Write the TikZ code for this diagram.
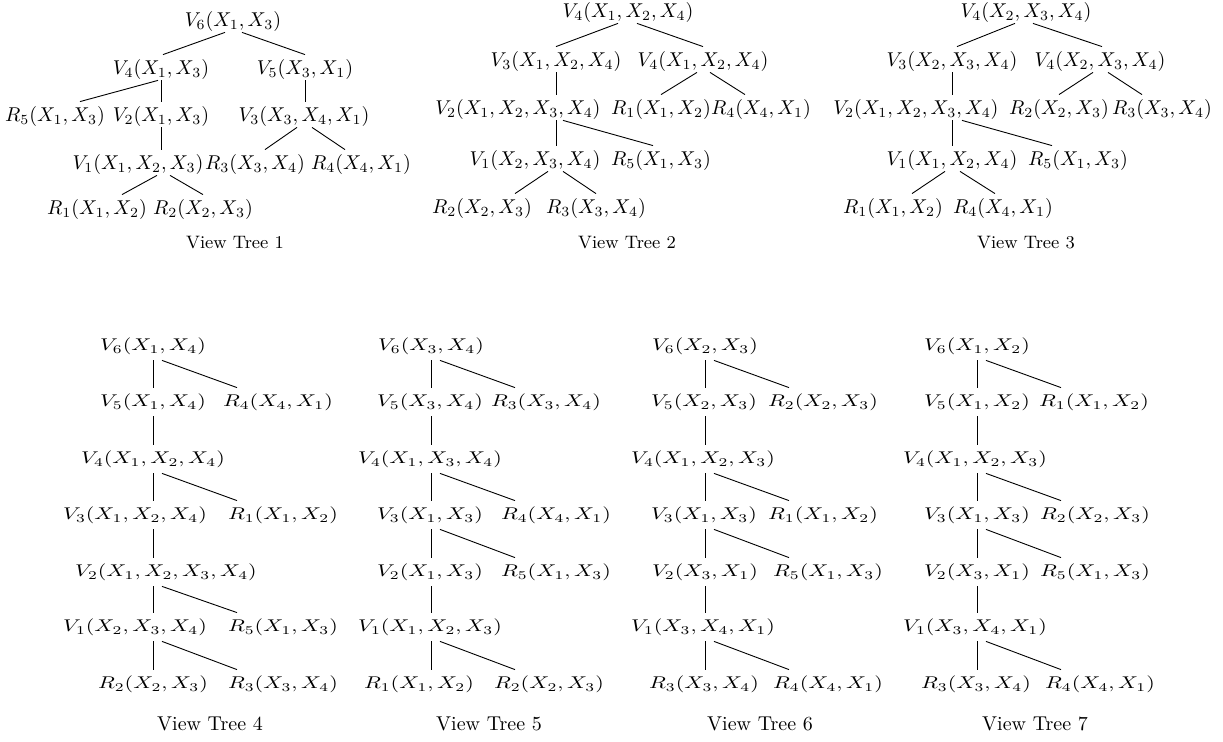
\documentclass[tikz,border=0pt]{standalone}
\usepackage{graphicx}
\tikzset{toplabel/.style={inner sep=0pt,anchor=base,text height=10pt,text depth=2.5pt},
  lowlabel/.style={inner sep=0pt,anchor=base,text height=9.5pt,text depth=4.5pt},
  caption/.style={inner sep=0pt,anchor=base,font=\small},
  lowcaption/.style={caption,font=\normalsize},
  link/.style={line width=0.45pt}}
\newcommand{\lowtext}[1]{\scalebox{1.1}[0.85]{#1}}

\begin{document}
\begin{tikzpicture}[x=0.5pt,y=-0.5pt]
\useasboundingbox (0,0) rectangle (1223,742);
% view tree 1
\node[toplabel] (t1v6) at (233,27) {$V_6(X_1,X_3)$};
\node[toplabel] (t1v4) at (161,75) {$V_4(X_1,X_3)$};
\node[toplabel] (t1v5) at (305,75) {$V_5(X_3,X_1)$};
\node[toplabel] (t1r5) at (55,122) {$R_5(X_1,X_3)$};
\node[toplabel] (t1v2) at (161,122) {$V_2(X_1,X_3)$};
\node[toplabel] (t1v3) at (304,122) {$V_3(X_3,X_4,X_1)$};
\node[toplabel] (t1v1) at (138,170) {$V_1(X_1,X_2,X_3)$};
\node[toplabel] (t1r3) at (255,170) {$R_3(X_3,X_4)$};
\node[toplabel] (t1r4) at (361,170) {$R_4(X_4,X_1)$};
\node[toplabel] (t1r1) at (97,215) {$R_1(X_1,X_2)$};
\node[toplabel] (t1r2) at (203,215) {$R_2(X_2,X_3)$};
\node[caption] (t1cap) at (235,249) {View Tree 1};
\draw[link] ([xshift=-4pt]t1v6.south) -- ([xshift=1pt]t1v4.north);
\draw[link] ([xshift=4.5pt]t1v6.south) -- (t1v5.north);
\draw[link] ([xshift=-1.5pt]t1v4.south) -- ([xshift=12.5pt]t1r5.north);
\draw[link] (t1v4.south) -- (t1v4.south |- t1v2.north);
\draw[link] (t1v5.south) -- (t1v5.south |- t1v3.north);
\draw[link] (t1v2.south) -- (t1v2.south |- t1v1.north);
\draw[link] ([xshift=-3.5pt]t1v3.south) -- ([xshift=5pt]t1r3.north);
\draw[link] ([xshift=4pt]t1v3.south) -- ([xshift=-8pt]t1r4.north);
\draw[link] ([xshift=9.5pt]t1v1.south) -- ([xshift=12.5pt]t1r1.north);
\draw[link] ([xshift=16pt]t1v1.south) -- (t1r2.north);
% view tree 2
\node[toplabel] (t2v4) at (628,18) {$V_4(X_1,X_2,X_4)$};
\node[toplabel] (t2v3) at (556,67) {$V_3(X_1,X_2,X_4)$};
\node[toplabel] (t2w4) at (703,67) {$V_4(X_1,X_2,X_4)$};
\node[toplabel] (t2v2) at (518,115) {$V_2(X_1,X_2,X_3,X_4)$};
\node[toplabel] (t2r1) at (661,115) {$R_1(X_1,X_2)$};
\node[toplabel] (t2r4) at (761,115) {$R_4(X_4,X_1)$};
\node[toplabel] (t2v1) at (535,166) {$V_1(X_2,X_3,X_4)$};
\node[toplabel] (t2r5) at (661,166) {$R_5(X_1,X_3)$};
\node[toplabel] (t2r2) at (482,214) {$R_2(X_2,X_3)$};
\node[toplabel] (t2r3) at (596,214) {$R_3(X_3,X_4)$};
\node[caption] (t2cap) at (627,249) {View Tree 2};
\draw[link] ([xshift=-5pt]t2v4.south) -- (t2v3.north);
\draw[link] ([xshift=4.5pt]t2v4.south) -- (t2w4.north);
\draw[link] (t2v3.south) -- (t2v3.south |- t2v2.north);
\draw[link] ([xshift=-3pt]t2w4.south) -- (t2r1.north);
\draw[link] ([xshift=3.5pt]t2w4.south) -- ([xshift=-8pt]t2r4.north);
\draw[link] (t2v3.south |- t2v2.south) -- (t2v3.south |- t2v1.north);
\draw[link] ([xshift=22.5pt]t2v2.south) -- ([xshift=-4pt]t2r5.north);
\draw[link] ([xshift=6.5pt]t2v1.south) -- ([xshift=16.5pt]t2r2.north);
\draw[link] ([xshift=14pt]t2v1.south) -- (t2r3.north);
% view tree 3
\node[toplabel] (t3v4) at (1026,18) {$V_4(X_2,X_3,X_4)$};
\node[toplabel] (t3v3) at (952,67) {$V_3(X_2,X_3,X_4)$};
\node[toplabel] (t3w4) at (1100,67) {$V_4(X_2,X_3,X_4)$};
\node[toplabel] (t3v2) at (916,115) {$V_2(X_1,X_2,X_3,X_4)$};
\node[toplabel] (t3r2) at (1059,115) {$R_2(X_2,X_3)$};
\node[toplabel] (t3r3) at (1162,115) {$R_3(X_3,X_4)$};
\node[toplabel] (t3v1) at (952,166) {$V_1(X_1,X_2,X_4)$};
\node[toplabel] (t3r5) at (1078,166) {$R_5(X_1,X_3)$};
\node[toplabel] (t3r1) at (893,214) {$R_1(X_1,X_2)$};
\node[toplabel] (t3r4) at (1003,214) {$R_4(X_4,X_1)$};
\node[caption] (t3cap) at (1026,249) {View Tree 3};
\draw[link] ([xshift=-5.5pt]t3v4.south) -- ([xshift=2.5pt]t3v3.north);
\draw[link] ([xshift=3.5pt]t3v4.south) -- ([xshift=1pt]t3w4.north);
\draw[link] (t3v3.south) -- (t3v3.south |- t3v2.north);
\draw[link] ([xshift=-3.5pt]t3w4.south) -- (t3r2.north);
\draw[link] ([xshift=4pt]t3w4.south) -- ([xshift=-10pt]t3r3.north);
\draw[link] (t3v3.south |- t3v2.south) -- (t3v3.south |- t3v1.north);
\draw[link] ([xshift=23pt]t3v2.south) -- ([xshift=-13pt]t3r5.north);
\draw[link] ([xshift=-3.5pt]t3v1.south) -- ([xshift=9.5pt]t3r1.north);
\draw[link] ([xshift=4pt]t3v1.south) -- ([xshift=-4pt]t3r4.north);
% view tree 4
\node[lowlabel] (t4v6) at (153,351) {\lowtext{$V_6(X_1,X_4)$}};
\node[lowlabel] (t4v5) at (153,407) {\lowtext{$V_5(X_1,X_4)$}};
\node[lowlabel] (t4r4) at (278,407) {\lowtext{$R_4(X_4,X_1)$}};
\node[lowlabel] (t4v4) at (153,464) {\lowtext{$V_4(X_1,X_2,X_4)$}};
\node[lowlabel] (t4v3) at (135,520) {\lowtext{$V_3(X_1,X_2,X_4)$}};
\node[lowlabel] (t4r1) at (283,520) {\lowtext{$R_1(X_1,X_2)$}};
\node[lowlabel] (t4v2) at (166,577) {\lowtext{$V_2(X_1,X_2,X_3,X_4)$}};
\node[lowlabel] (t4v1) at (135,632) {\lowtext{$V_1(X_2,X_3,X_4)$}};
\node[lowlabel] (t4r5) at (283,632) {\lowtext{$R_5(X_1,X_3)$}};
\node[lowlabel] (t4r2) at (153,689) {\lowtext{$R_2(X_2,X_3)$}};
\node[lowlabel] (t4r3) at (283,689) {\lowtext{$R_3(X_3,X_4)$}};
\node[lowcaption] (t4cap) at (210,731) {View Tree 4};
\foreach \a/\b in {v6/v5,v5/v4,v4/v3,v3/v2,v2/v1,v1/r2}
  \draw[link] (t4\a.south -| t4v6) -- (t4\b.north -| t4v6);
\foreach \a/\b in {v6/r4,v4/r1,v2/r5,v1/r3}
  \draw[link] ([xshift=4.5pt]t4\a.south -| t4v6) -- ([xshift=42pt]t4\b.north -| t4v6);
% view tree 5
\node[lowlabel] (t5v6) at (431,351) {\lowtext{$V_6(X_3,X_4)$}};
\node[lowlabel] (t5v5) at (430,407) {\lowtext{$V_5(X_3,X_4)$}};
\node[lowlabel] (t5r3) at (546,407) {\lowtext{$R_3(X_3,X_4)$}};
\node[lowlabel] (t5v4) at (430,464) {\lowtext{$V_4(X_1,X_3,X_4)$}};
\node[lowlabel] (t5v3) at (430,520) {\lowtext{$V_3(X_1,X_3)$}};
\node[lowlabel] (t5r4) at (556,520) {\lowtext{$R_4(X_4,X_1)$}};
\node[lowlabel] (t5v2) at (430,577) {\lowtext{$V_2(X_1,X_3)$}};
\node[lowlabel] (t5r5) at (556,577) {\lowtext{$R_5(X_1,X_3)$}};
\node[lowlabel] (t5v1) at (430,632) {\lowtext{$V_1(X_1,X_2,X_3)$}};
\node[lowlabel] (t5r1) at (419,689) {\lowtext{$R_1(X_1,X_2)$}};
\node[lowlabel] (t5r2) at (549,689) {\lowtext{$R_2(X_2,X_3)$}};
\node[lowcaption] (t5cap) at (489,731) {View Tree 5};
\foreach \a/\b in {v6/v5,v5/v4,v4/v3,v3/v2,v2/v1,v1/r1}
  \draw[link] (t5\a.south -| t5v6) -- (t5\b.north -| t5v6);
\foreach \a/\b in {v6/r3,v4/r4,v3/r5,v1/r2}
  \draw[link] ([xshift=4.5pt]t5\a.south -| t5v6) -- ([xshift=42pt]t5\b.north -| t5v6);
% view tree 6
\node[lowlabel] (t6v6) at (705,351) {\lowtext{$V_6(X_2,X_3)$}};
\node[lowlabel] (t6v5) at (704,407) {\lowtext{$V_5(X_2,X_3)$}};
\node[lowlabel] (t6r2) at (823,407) {\lowtext{$R_2(X_2,X_3)$}};
\node[lowlabel] (t6v4) at (703,464) {\lowtext{$V_4(X_1,X_2,X_3)$}};
\node[lowlabel] (t6v3) at (704,520) {\lowtext{$V_3(X_1,X_3)$}};
\node[lowlabel] (t6r1) at (823,520) {\lowtext{$R_1(X_1,X_2)$}};
\node[lowlabel] (t6v2) at (705,577) {\lowtext{$V_2(X_3,X_1)$}};
\node[lowlabel] (t6r5) at (828,577) {\lowtext{$R_5(X_1,X_3)$}};
\node[lowlabel] (t6v1) at (703,632) {\lowtext{$V_1(X_3,X_4,X_1)$}};
\node[lowlabel] (t6r3) at (704,689) {\lowtext{$R_3(X_3,X_4)$}};
\node[lowlabel] (t6r4) at (828,689) {\lowtext{$R_4(X_4,X_1)$}};
\node[lowcaption] (t6cap) at (760,731) {View Tree 6};
\foreach \a/\b in {v6/v5,v5/v4,v4/v3,v3/v2,v2/v1,v1/r3}
  \draw[link] (t6\a.south -| t6v6) -- (t6\b.north -| t6v6);
\foreach \a/\b in {v6/r2,v4/r1,v3/r5,v1/r4}
  \draw[link] ([xshift=4.5pt]t6\a.south -| t6v6) -- ([xshift=42pt]t6\b.north -| t6v6);
% view tree 7
\node[lowlabel] (t7v6) at (977,351) {\lowtext{$V_6(X_1,X_2)$}};
\node[lowlabel] (t7v5) at (977,407) {\lowtext{$V_5(X_1,X_2)$}};
\node[lowlabel] (t7r1) at (1094,407) {\lowtext{$R_1(X_1,X_2)$}};
\node[lowlabel] (t7v4) at (975,464) {\lowtext{$V_4(X_1,X_2,X_3)$}};
\node[lowlabel] (t7v3) at (977,520) {\lowtext{$V_3(X_1,X_3)$}};
\node[lowlabel] (t7r2) at (1095,520) {\lowtext{$R_2(X_2,X_3)$}};
\node[lowlabel] (t7v2) at (977,577) {\lowtext{$V_2(X_3,X_1)$}};
\node[lowlabel] (t7r5) at (1095,577) {\lowtext{$R_5(X_1,X_3)$}};
\node[lowlabel] (t7v1) at (975,632) {\lowtext{$V_1(X_3,X_4,X_1)$}};
\node[lowlabel] (t7r3) at (976,689) {\lowtext{$R_3(X_3,X_4)$}};
\node[lowlabel] (t7r4) at (1100,689) {\lowtext{$R_4(X_4,X_1)$}};
\node[lowcaption] (t7cap) at (1035,731) {View Tree 7};
\foreach \a/\b in {v6/v5,v5/v4,v4/v3,v3/v2,v2/v1,v1/r3}
  \draw[link] (t7\a.south -| t7v6) -- (t7\b.north -| t7v6);
\foreach \a/\b in {v6/r1,v4/r2,v3/r5,v1/r4}
  \draw[link] ([xshift=4.5pt]t7\a.south -| t7v6) -- ([xshift=42pt]t7\b.north -| t7v6);
\end{tikzpicture}
\end{document}
